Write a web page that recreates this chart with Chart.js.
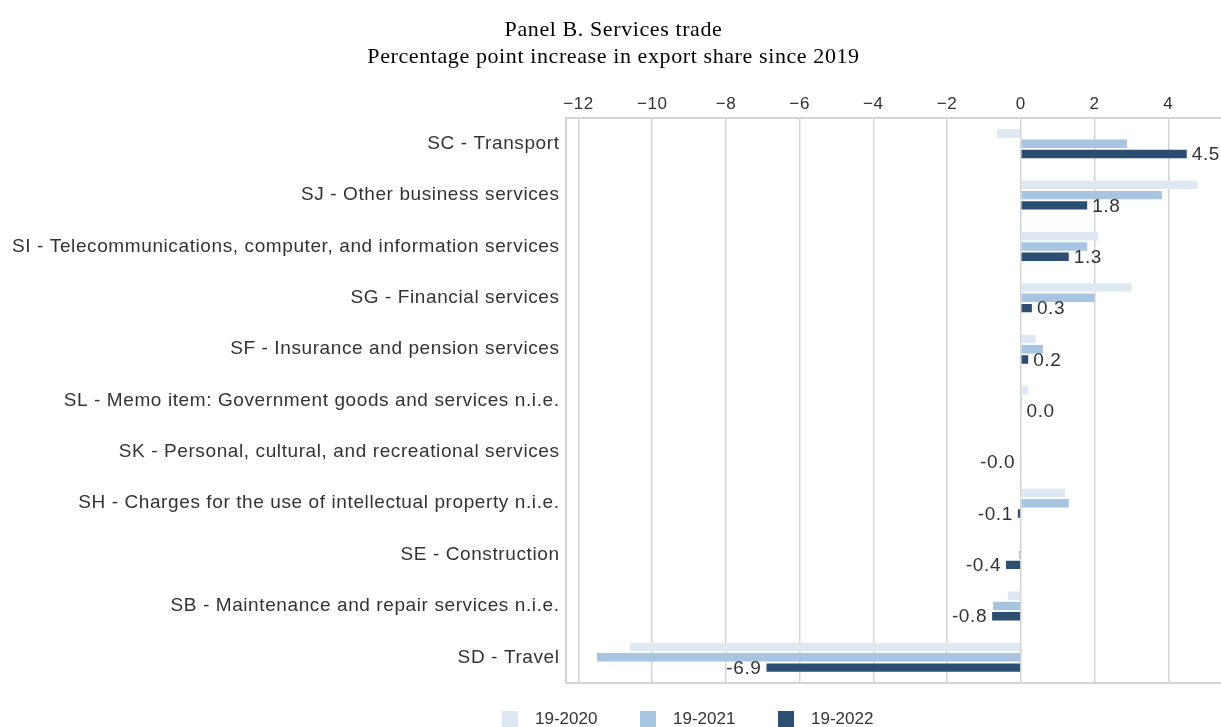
<!DOCTYPE html>
<html>
<head>
<meta charset="utf-8">
<title>Services trade</title>
<script src="https://cdn.jsdelivr.net/npm/chart.js@4"></script>
<style>
  html, body { margin: 0; padding: 0; background: #fff; }
  #wrap { width: 1221px; height: 727px; position: relative; }
</style>
</head>
<body>
<div id="wrap"><canvas id="chart"></canvas></div>
<script>
// Categories (top to bottom)
const categories = [
    'SC - Transport',
    'SJ - Other business services',
    'SI - Telecommunications, computer, and information services',
    'SG - Financial services',
    'SF - Insurance and pension services',
    'SL - Memo item: Government goods and services n.i.e.',
    'SK - Personal, cultural, and recreational services',
    'SH - Charges for the use of intellectual property n.i.e.',
    'SE - Construction',
    'SB - Maintenance and repair services n.i.e.',
    'SD - Travel'
];

// Percentage point change in export share vs 2019
const change2020 = [-0.65, 4.8, 2.1, 3.0, 0.4, 0.2, 0.0, 1.2, 0.0, -0.35, -10.6];
const change2021 = [2.88, 3.83, 1.8, 2.0, 0.6, 0.01, 0.0, 1.3, -0.05, -0.75, -11.5];
const change2022 = [4.5, 1.8, 1.3, 0.3, 0.2, 0.02, -0.02, -0.08, -0.4, -0.78, -6.9];

const seriesLabels = ['19-2020', '19-2021', '19-2022'];
const seriesColors = ['#dde8f3', '#a7c4e0', '#2b4e71'];

const textColor = '#333333';
const gridColor = '#d4d4d4';
const sansFont = '"Liberation Sans", Arial, sans-serif';

// Slightly wider text, like the original rendering
const spacing = {
    id: 'spacing',
    beforeLayout(chart) { chart.ctx.letterSpacing = '0.6px'; },
    beforeDraw(chart) { chart.ctx.letterSpacing = '0.6px'; }
};

// Value labels next to the 19-2022 bars
const valueLabels = {
    id: 'valueLabels',
    afterDatasetsDraw(chart) {
        const ctx = chart.ctx;
        const meta = chart.getDatasetMeta(2);
        ctx.save();
        ctx.font = '19px ' + sansFont;
        ctx.fillStyle = textColor;
        ctx.textBaseline = 'middle';
        meta.data.forEach((bar, i) => {
            const v = change2022[i];
            const txt = v.toFixed(1);
            if (v >= 0) {
                ctx.textAlign = 'left';
                ctx.fillText(txt, bar.x + 5, bar.y + 1);
            } else {
                ctx.textAlign = 'right';
                ctx.fillText(txt, bar.x - 5, bar.y + 1);
            }
        });
        ctx.restore();
    }
};

// Legend drawn at the bottom, square boxes
const bottomLegend = {
    id: 'bottomLegend',
    afterDraw(chart) {
        const ctx = chart.ctx;
        ctx.save();
        ctx.letterSpacing = '0px';
        ctx.font = '17px ' + sansFont;
        ctx.textBaseline = 'middle';
        ctx.textAlign = 'left';
        const startX = 502;
        const step = 138;
        const y = 719;
        chart.data.datasets.forEach((ds, i) => {
            const x = startX + i * step;
            ctx.fillStyle = ds.backgroundColor;
            ctx.fillRect(x, y - 8, 16, 16);
            ctx.fillStyle = textColor;
            ctx.fillText(ds.label, x + 33, y);
        });
        ctx.restore();
    }
};

const datasets = [change2020, change2021, change2022].map((d, i) => ({
    label: seriesLabels[i],
    data: d,
    backgroundColor: seriesColors[i],
    categoryPercentage: 0.6,
    barPercentage: 0.82
}));

new Chart(document.getElementById('chart'), {
    type: 'bar',
    data: { labels: categories, datasets: datasets },
    plugins: [spacing, valueLabels, bottomLegend],
    options: {
        indexAxis: 'y',
        responsive: true,
        maintainAspectRatio: false,
        animation: false,
        layout: { padding: { left: 6, right: 0, top: 0, bottom: 44 } },
        plugins: {
            legend: { display: false },
            tooltip: { enabled: false },
            title: {
                display: true,
                text: ['Panel B. Services trade', 'Percentage point increase in export share since 2019'],
                color: '#000',
                font: { family: '"Liberation Serif", "Times New Roman", serif', size: 22, weight: 'normal', lineHeight: 1.22 },
                padding: { top: 17, bottom: 19 }
            }
        },
        scales: {
            x: {
                position: 'top',
                min: -12.35,
                max: 5.43,
                ticks: {
                    stepSize: 2,
                    includeBounds: false,
                    color: textColor,
                    padding: 4,
                    font: { family: sansFont, size: 17 },
                    callback: v => String(v).replace('-', '\u2212')
                },
                grid: { color: gridColor, lineWidth: 1.5, drawTicks: false },
                border: { color: gridColor, width: 2 }
            },
            x2: {
                position: 'bottom',
                axis: 'x',
                min: -12.35,
                max: 5.43,
                ticks: { display: false },
                grid: { display: false, drawTicks: false },
                border: { color: gridColor, width: 2 }
            },
            y: {
                ticks: {
                    color: textColor,
                    padding: 6,
                    font: { family: sansFont, size: 19 }
                },
                grid: { display: false, drawTicks: false },
                border: { color: gridColor, width: 2 }
            }
        }
    }
});
</script>
</body>
</html>
